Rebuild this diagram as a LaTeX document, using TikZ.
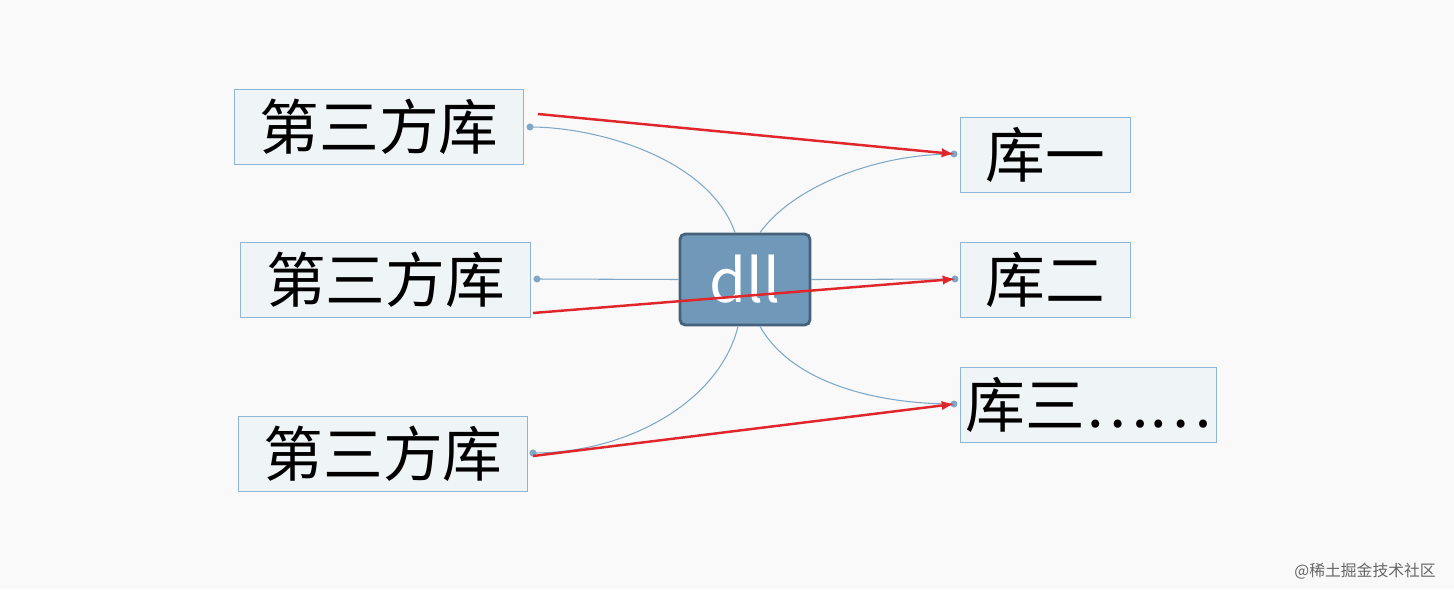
\documentclass[tikz,border=0pt]{standalone}
\usepackage{fontspec}
\setmainfont{Noto Sans CJK SC}
\usetikzlibrary{positioning,calc}
\definecolor{pagebg}{HTML}{F9F9F9}
\definecolor{boxfill}{HTML}{EFF4F7}
\definecolor{boxline}{HTML}{8DB6D6}
\definecolor{dllfill}{HTML}{7099B9}
\definecolor{dllline}{HTML}{46627A}
\definecolor{linkblue}{HTML}{7FA8C8}
\definecolor{arrowred}{HTML}{E0262B}
\tikzset{
  libbox/.style={draw=boxline,fill=boxfill,line width=0.6pt,anchor=north west,inner sep=0pt,font=\fontsize{34}{34}\selectfont},
  link/.style={linkblue,line width=0.6pt},
  enddot/.style={circle,fill=linkblue,inner sep=0pt,minimum size=4pt},
  redarrow/.style={arrowred,line width=1.4pt,-latex}
}
\begin{document}
\begin{tikzpicture}[x=0.02cm,y=-0.02cm]
    % background
    \fill[pagebg] (0,0) rectangle (1454,589);
    \useasboundingbox (0,0) rectangle (1454,589);

    % left boxes
    \node[libbox,minimum width=289*0.02cm,minimum height=75*0.02cm] (libA) at (234,89) {第三方库};
    \node[libbox,minimum width=290*0.02cm,minimum height=75*0.02cm] (libB) at (240,242) {第三方库};
    \node[libbox,minimum width=289*0.02cm,minimum height=75*0.02cm] (libC) at (238,416) {第三方库};

    % right boxes
    \node[libbox,minimum width=170*0.02cm,minimum height=75*0.02cm] (one) at (960,117) {库一};
    \node[libbox,minimum width=170*0.02cm,minimum height=75*0.02cm] (two) at (960,242) {库二};
    \node[libbox,minimum width=256*0.02cm,minimum height=75*0.02cm] (three) at (960,367) {库三……};

    % centre
    \node[draw=dllline,fill=dllfill,line width=1.6pt,rounded corners=3pt,minimum width=130*0.02cm,minimum height=91*0.02cm,
          text=white,font=\fontsize{34}{34}\selectfont] (dll) at (745,279.5) {dll};

    % end dots
    \node[enddot] (dA) at (530,127) {};
    \node[enddot] (dB) at (537,279) {};
    \node[enddot] (dC) at (533,453) {};
    \node[enddot] (dOne) at (954,154) {};
    \node[enddot] (dTwo) at (955,279) {};
    \node[enddot] (dThree) at (954,404) {};

    % blue links
    \draw[link] ($(dll.north)+(-10,0)$) .. controls (710,160) and (600,127) .. (dA.center);
    \draw[link] ($(dll.north)+(15,0)$) .. controls (790,190) and (870,154) .. (dOne.center);
    \draw[link] (dll.west) -- (dB.center);
    \draw[link] (dll.east) -- (dTwo.center);
    \draw[link] ($(dll.south)+(-7,0)$) .. controls (720,400) and (630,453) .. (dC.center);
    \draw[link] ($(dll.south)+(15,0)$) .. controls (790,380) and (870,404) .. (dThree.center);

    % red arrows
    \coordinate (rA) at (538,114);
    \coordinate (rB) at (533,313);
    \coordinate (rC) at (533,456);
    \draw[redarrow] (rA) -- (dOne.center);
    \draw[redarrow] (rB) -- (dTwo.center);
    \draw[redarrow] (rC) -- (dThree.center);

    % watermark
    \node[text=gray!80!black,font=\fontsize{9}{9}\selectfont,anchor=east] (mark) at (1442,571) {@稀土掘金技术社区};
\end{tikzpicture}
\end{document}
